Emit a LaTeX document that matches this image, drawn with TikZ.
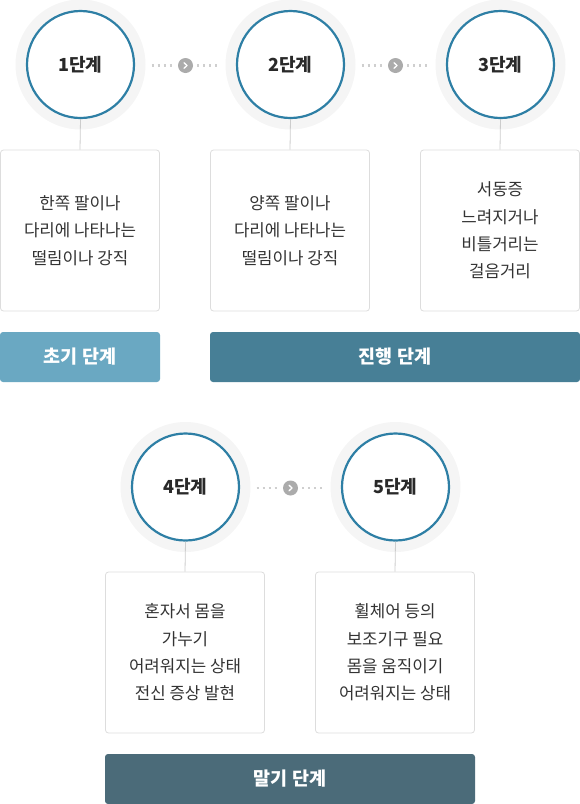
\documentclass[tikz,border=0pt]{standalone}
\usepackage{fontspec}
\newfontfamily\kr{Noto Sans CJK KR}
\definecolor{ringblue}{HTML}{2E7FA5}
\definecolor{halo}{HTML}{F5F5F5}
\definecolor{boxline}{HTML}{DDDDDD}
\definecolor{vline}{HTML}{CCCCCC}
\definecolor{dotc}{HTML}{CFCFCF}
\definecolor{arrc}{HTML}{ABABAB}
\definecolor{txt}{HTML}{333333}
\definecolor{early}{HTML}{6AA8C2}
\definecolor{prog}{HTML}{477F96}
\definecolor{late}{HTML}{4B6B79}
\tikzset{
  halostyle/.style={circle, fill=halo, minimum size=130pt, inner sep=0pt},
  ringstyle/.style={circle, draw=ringblue, line width=2.2pt, fill=white, minimum size=107pt, inner sep=0pt,
     font=\kr\fontsize{18}{20}\selectfont\bfseries, text=txt!80!black},
  descbox/.style={draw=boxline, line width=0.8pt, rounded corners=3pt, fill=white, minimum width=159pt, minimum height=161pt,
     inner sep=0pt, align=center, font=\kr\fontsize{16.8}{27.3}\selectfont, text=txt},
  barstyle/.style={rounded corners=3pt, minimum height=50pt, inner sep=0pt, text=white,
     font=\kr\fontsize{18.5}{20}\selectfont\bfseries},
  stemline/.style={draw=vline, line width=0.8pt},
  dotline/.style={draw=dotc, line width=2.2pt, dash pattern=on 2pt off 4pt},
  arrnode/.style={circle, fill=arrc, minimum size=15pt, inner sep=0pt},
}
\begin{document}
\begin{tikzpicture}[x=1pt,y=-1pt]
\useasboundingbox (0,0) rectangle (580,804);
% halos
\node[halostyle] (h1) at (80.5,64.5) {};
\node[halostyle] (h2) at (290.5,64.5) {};
\node[halostyle] (h3) at (500.5,64.5) {};
\node[halostyle] (h4) at (185.5,487) {};
\node[halostyle] (h5) at (395.5,487) {};
% rings
\node[ringstyle] (c1) at (80.5,64.5) {1단계};
\node[ringstyle] (c2) at (290.5,64.5) {2단계};
\node[ringstyle] (c3) at (500.5,64.5) {3단계};
\node[ringstyle] (c4) at (185.5,487) {4단계};
\node[ringstyle] (c5) at (395.5,487) {5단계};
% boxes
\node[descbox] (b1) at (80,230.5) {한쪽 팔이나\\다리에 나타나는\\떨림이나 강직};
\node[descbox] (b2) at (290,230.5) {양쪽 팔이나\\다리에 나타나는\\떨림이나 강직};
\node[descbox] (b3) at (500,230.5) {서동증\\느려지거나\\비틀거리는\\걸음거리};
\node[descbox] (b4) at (185,652.5) {혼자서 몸을\\가누기\\어려워지는 상태\\전신 증상 발현};
\node[descbox] (b5) at (395,652.5) {휠체어 등의\\보조기구 필요\\몸을 움직이기\\어려워지는 상태};
% stems
\draw[stemline] (c1.south) -- (b1.north);
\draw[stemline] (c2.south) -- (b2.north);
\draw[stemline] (c3.south) -- (b3.north);
\draw[stemline] (c4.south) -- (b4.north);
\draw[stemline] (c5.south) -- (b5.north);
% bars
\node[barstyle, fill=early, minimum width=160pt] (s1) at (80,357) {초기 단계};
\node[barstyle, fill=prog, minimum width=370pt] (s2) at (395,357) {진행 단계};
\node[barstyle, fill=late, minimum width=370pt] (s3) at (290,779) {말기 단계};
% connectors
\node[arrnode] (a12) at (185.5,65.5) {};
\node[arrnode] (a23) at (395.5,65.5) {};
\node[arrnode] (a45) at (290.5,488) {};
\foreach \a/\l/\r in {a12/h1/h2, a23/h2/h3, a45/h4/h5}{
  \draw[dotline] ([xshift=6pt]\l.east |- \a.center) -- ([xshift=-2.5pt]\a.west);
  \draw[dotline] ([xshift=4pt]\a.east) -- ([xshift=-6pt]\r.west |- \a.center);
  \draw[white, line width=1.3pt, line cap=round, line join=round]
     ([xshift=-1.5pt,yshift=2.8pt]\a.center) -- ([xshift=1.5pt]\a.center) -- ([xshift=-1.5pt,yshift=-2.8pt]\a.center);
}
\end{tikzpicture}
\end{document}
